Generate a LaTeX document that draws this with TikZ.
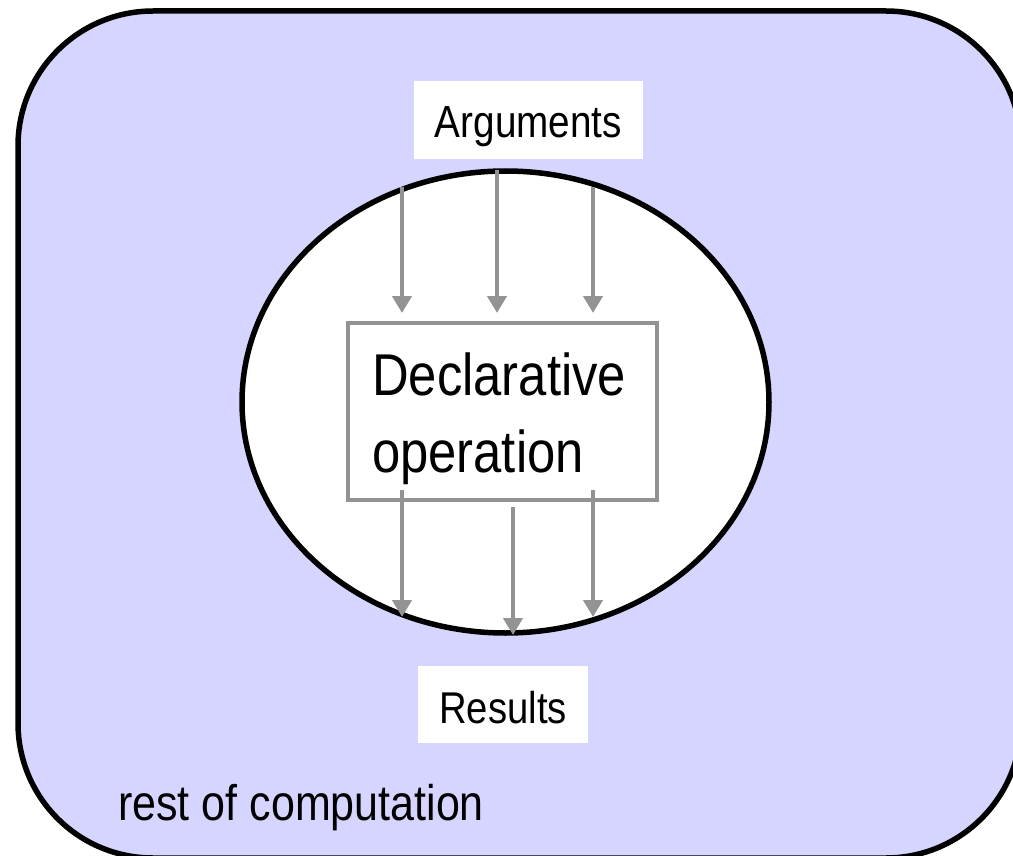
\documentclass[tikz,border=0pt]{standalone}
\usepackage{fontspec}
\setmainfont[FakeStretch=0.86]{Liberation Sans}
\usetikzlibrary{shapes.geometric,arrows.meta}
\definecolor{bgfill}{HTML}{D5D5FF}
\definecolor{arrgray}{HTML}{939393}
\tikzset{
  outerbox/.style={draw=black, line width=5.5pt, fill=bgfill, rounded corners=135pt},
  world/.style={ellipse, draw=black, line width=5.5pt, fill=white, inner sep=0pt},
  opbox/.style={draw=arrgray, line width=4.5pt, fill=white, inner sep=0pt},
  tagbox/.style={fill=white, inner sep=0pt, text depth=0pt},
  flow/.style={draw=arrgray, line width=4.8pt, -{Triangle[width=19pt,length=17pt]}},
}
\begin{document}
\begin{tikzpicture}[x=1pt,y=-1pt]
\useasboundingbox (0,0) rectangle (1013,856);
\path[outerbox] (18,11) rectangle (1021,858);
\node[world, minimum width=527pt, minimum height=462pt] (ell) at (505.5,402) {};
\node[opbox, minimum width=309pt, minimum height=177pt] (op) at (502.5,411.5) {};
\node[anchor=base west, inner sep=0pt, align=left, font=\fontsize{59}{77}\selectfont] (optext) at (372,472) {Declarative\\operation};
\node[tagbox, minimum width=229pt, minimum height=78pt, text height=36pt, font=\fontsize{45}{54}\selectfont] (args) at (528.5,120) {Arguments};
\node[tagbox, minimum width=170pt, minimum height=77pt, text height=37pt, font=\fontsize{44.5}{53}\selectfont] (res) at (503,704.5) {Results};
\node[anchor=base west, inner sep=0pt, font=\fontsize{50}{60}\selectfont] (rest) at (118,820) {rest of computation};
% argument arrows
\coordinate (a1s) at (402,187);
\coordinate (a2s) at (497,170);
\coordinate (a3s) at (593,187);
\coordinate (a1e) at (402,313);
\coordinate (a2e) at (497,313);
\coordinate (a3e) at (593,313);
\draw[flow] (a1s) -- (a1e);
\draw[flow] (a2s) -- (a2e);
\draw[flow] (a3s) -- (a3e);
% result arrows
\coordinate (r1s) at (402,490);
\coordinate (r2s) at (513,507);
\coordinate (r3s) at (593,490);
\coordinate (r1e) at (402,617);
\coordinate (r2e) at (513,635);
\coordinate (r3e) at (593,617);
\draw[flow] (r1s) -- (r1e);
\draw[flow] (r2s) -- (r2e);
\draw[flow] (r3s) -- (r3e);
\end{tikzpicture}
\end{document}
